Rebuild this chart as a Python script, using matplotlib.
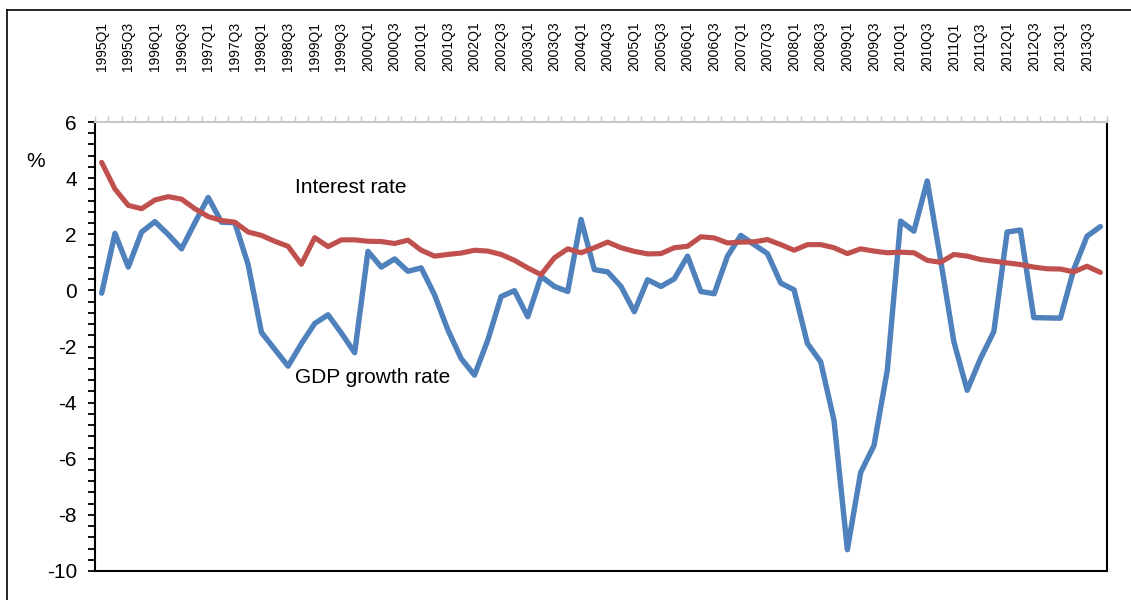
import matplotlib.pyplot as plt
import numpy as np
from matplotlib.lines import Line2D
from matplotlib.ticker import MultipleLocator

plt.rcParams['font.family'] = ['Liberation Sans', 'DejaVu Sans']
plt.rcParams['axes.unicode_minus'] = False

# quarters 1995Q1 .. 2013Q4
years = list(range(1995, 2014))
quarters = [f"{y}Q{q}" for y in years for q in range(1, 5)]

gdp_growth = [-0.1, 2.03, 0.83, 2.08, 2.45, 1.99, 1.48, 2.41, 3.31, 2.43,
              2.41, 0.92, -1.5, -2.1, -2.7, -1.9, -1.18, -0.87, -1.52, -2.22,
              1.39, 0.83, 1.12, 0.68, 0.80, -0.16, -1.41, -2.43, -3.02, -1.77,
              -0.22, -0.01, -0.94, 0.5, 0.14, -0.04, 2.53, 0.74, 0.66, 0.14,
              -0.76, 0.38, 0.14, 0.41, 1.22, -0.04, -0.12, 1.22, 1.96, 1.63,
              1.31, 0.26, 0.02, -1.89, -2.55, -4.64, -9.24, -6.49, -5.53, -2.85,
              2.47, 2.11, 3.90, 1.1, -1.83, -3.56, -2.43, -1.47, 2.08, 2.15,
              -0.97, -0.98, -0.99, 0.74, 1.93, 2.27]

interest_rate = [4.56, 3.61, 3.03, 2.91, 3.22, 3.34, 3.25, 2.91, 2.63, 2.49,
                 2.43, 2.08, 1.96, 1.75, 1.57, 0.93, 1.88, 1.56, 1.8, 1.8,
                 1.75, 1.74, 1.67, 1.79, 1.43, 1.22, 1.28, 1.33, 1.43, 1.40,
                 1.28, 1.07, 0.80, 0.56, 1.16, 1.48, 1.34, 1.52, 1.72, 1.52,
                 1.39, 1.30, 1.31, 1.52, 1.57, 1.91, 1.87, 1.69, 1.72, 1.73,
                 1.81, 1.63, 1.43, 1.63, 1.63, 1.52, 1.31, 1.48, 1.40, 1.34,
                 1.36, 1.34, 1.07, 1.0, 1.28, 1.22, 1.10, 1.04, 0.98, 0.92,
                 0.83, 0.77, 0.76, 0.66, 0.86, 0.64]

fig = plt.figure(figsize=(11.31, 6), dpi=100)
ax = fig.add_axes([95/1131, 29/600, 1012/1131, 449/600])

x = np.arange(len(quarters))
ax.plot(x, gdp_growth, color='#4F81BD', lw=3.9, solid_joinstyle='round', solid_capstyle='round')
ax.plot(x, interest_rate, color='#C0504D', lw=3.7, solid_joinstyle='round', solid_capstyle='round')

ax.set_xlim(-0.5, len(quarters) - 0.5)
ax.set_ylim(-10, 6)

# category axis on top
ax.xaxis.tick_top()
ax.set_xticks(x[::2])
ax.set_xticklabels(quarters[::2], rotation=90, fontsize=10)
ax.set_xticks(np.arange(-0.5, len(quarters)), minor=True)
ax.tick_params(axis='x', which='major', length=0, pad=36.5)
ax.tick_params(axis='x', which='minor', length=4, width=1, color='#C8C8C8', direction='out')

ax.yaxis.set_major_locator(MultipleLocator(2))
ax.yaxis.set_minor_locator(MultipleLocator(0.4))
ax.tick_params(axis='y', which='both', length=5, width=1.3, direction='out', colors='black', labelsize=15, pad=8)

for s in ['left', 'bottom', 'right']:
    ax.spines[s].set_color('black')
    ax.spines[s].set_linewidth(1.5)
ax.spines['top'].set_color('#C8C8C8')
ax.spines['top'].set_linewidth(1.5)

ax.text(14.54, 3.65, 'Interest rate', fontsize=15, ha='left', va='center')
ax.text(14.54, -3.12, 'GDP growth rate', fontsize=15, ha='left', va='center')
ax.text(-0.059, 0.9116, '%', fontsize=15, ha='center', va='center', transform=ax.transAxes)

# outer chart frame (cropped at right and bottom)
fx, fy = 7/1131, 1 - 10/600
fig.add_artist(Line2D([fx, fx], [0, fy], color='black', lw=1.2, transform=fig.transFigure))
fig.add_artist(Line2D([fx, 1], [fy, fy], color='black', lw=1.2, transform=fig.transFigure))

fig.savefig('out.png', dpi=100)
